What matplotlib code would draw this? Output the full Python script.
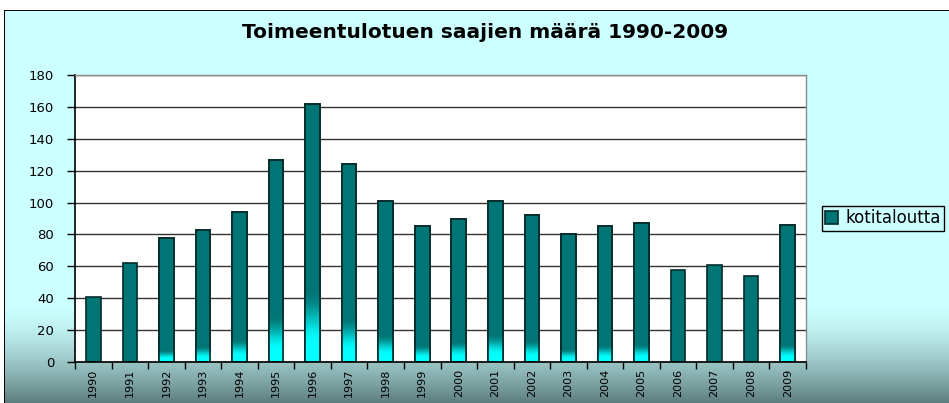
import matplotlib
matplotlib.use("Agg")
import matplotlib.pyplot as plt
import numpy as np
from matplotlib.colors import to_rgb
from matplotlib.patches import Patch

# data
years = [str(y) for y in range(1990, 2010)]
households = [41, 62, 78, 83, 94, 127, 162, 124, 101, 85,
              90, 101, 92, 80, 85, 87, 58, 61, 54, 86]
series_name = "kotitaloutta"
title = "Toimeentulotuen saajien määrä 1990-2009"
y_ticks = list(range(0, 181, 20))

# colours
teal = "#007575"
cyan = "#00FFFF"
edge = "#002B2B"
bg_top = "#CCFFFF"
bg_bottom = "#5C7C7C"

W, H = 949, 403
fig = plt.figure(figsize=(W / 100, H / 100), dpi=100)
plt.rcParams['font.family'] = ['DejaVu Sans']

# ---- background: light cyan, darkening towards the bottom, white margin + black border
rows = np.arange(H)
t = np.clip((rows - 305) / (H - 305), 0, 1) ** 1.5
c0, c1 = np.array(to_rgb(bg_top)), np.array(to_rgb(bg_bottom))
col = c0[None, :] * (1 - t[:, None]) + c1[None, :] * t[:, None]
bg = np.repeat(col[:, None, :], W, axis=1)
bg[:10, :, :] = 1.0
bg[:, :4, :] = 1.0
bg[10, 4:, :] = 0.0
bg[10:, 4, :] = 0.0
fig.figimage(bg, xo=0, yo=0, origin='upper', zorder=-10)

ax = fig.add_axes([75 / W, 1 - 362 / H, (806 - 75) / W, (362 - 75) / H])
ax.set_facecolor("white")

x = np.arange(len(years))
bars = ax.bar(x, households, width=0.4, color=teal, edgecolor=edge,
              linewidth=1.2, zorder=2)

# cyan glow at the foot of the taller bars
tc, cc = np.array(to_rgb(teal)), np.array(to_rgb(cyan))
for b, v in zip(bars, households):
    g = 0.45 * (v - 62)
    if g <= 2:
        continue
    ys = np.linspace(0, g, 80)
    s = np.clip(ys / g, 0, 1)
    s = np.clip((s - 0.25) / 0.75, 0, 1)
    s = s * s * (3 - 2 * s)
    grad = cc[None, :] * (1 - s[:, None]) + tc[None, :] * s[:, None]
    img = np.repeat(grad[:, None, :], 2, axis=1)
    im = ax.imshow(img, origin='lower', aspect='auto', zorder=2.1,
                   extent=(b.get_x(), b.get_x() + b.get_width(), 0, g),
                   interpolation='bilinear')
    im.set_clip_path(b)
    ax.bar(b.get_x() + b.get_width() / 2, v, width=b.get_width(),
           fill=False, edgecolor=edge, linewidth=1.2, zorder=2.2)

ax.set_xlim(-0.5, len(years) - 0.5)
ax.set_ylim(0, 180)
ax.set_yticks(y_ticks)
ax.tick_params(axis='y', length=6, width=1, pad=9, labelsize=9.5, colors='black')
ax.set_xticks(np.arange(-0.5, len(years), 1))
ax.set_xticklabels([])
ax.set_xticks(x, minor=True)
ax.set_xticklabels(years, minor=True, rotation=90, fontsize=8)
ax.tick_params(axis='x', which='major', length=5, width=1, direction='out')
ax.tick_params(axis='x', which='minor', length=0, pad=5)
ax.set_autoscale_on(False)

ax.grid(axis='y', color='#333333', linewidth=1)
ax.set_axisbelow(True)
for side in ('left', 'bottom'):
    ax.spines[side].set_color('black')
    ax.spines[side].set_linewidth(1.2)
for side in ('top', 'right'):
    ax.spines[side].set_color('#8C8C8C')
    ax.spines[side].set_linewidth(1)

fig.text(485 / W, 1 - 33 / H, title, ha='center', va='center',
         fontsize=14.5, fontweight='bold')

handle = Patch(facecolor=teal, edgecolor=edge, linewidth=1.2)
leg = fig.legend([handle], [series_name], loc='upper left',
                 bbox_to_anchor=(822 / W, 1 - 206 / H), frameon=True,
                 fancybox=False, framealpha=1, facecolor=bg_top,
                 edgecolor='black', fontsize=12, handlelength=0.75,
                 handleheight=0.75, handletextpad=0.45, borderpad=0.2,
                 borderaxespad=0)
leg.get_frame().set_linewidth(1)

fig.savefig("out.png", dpi=100)
